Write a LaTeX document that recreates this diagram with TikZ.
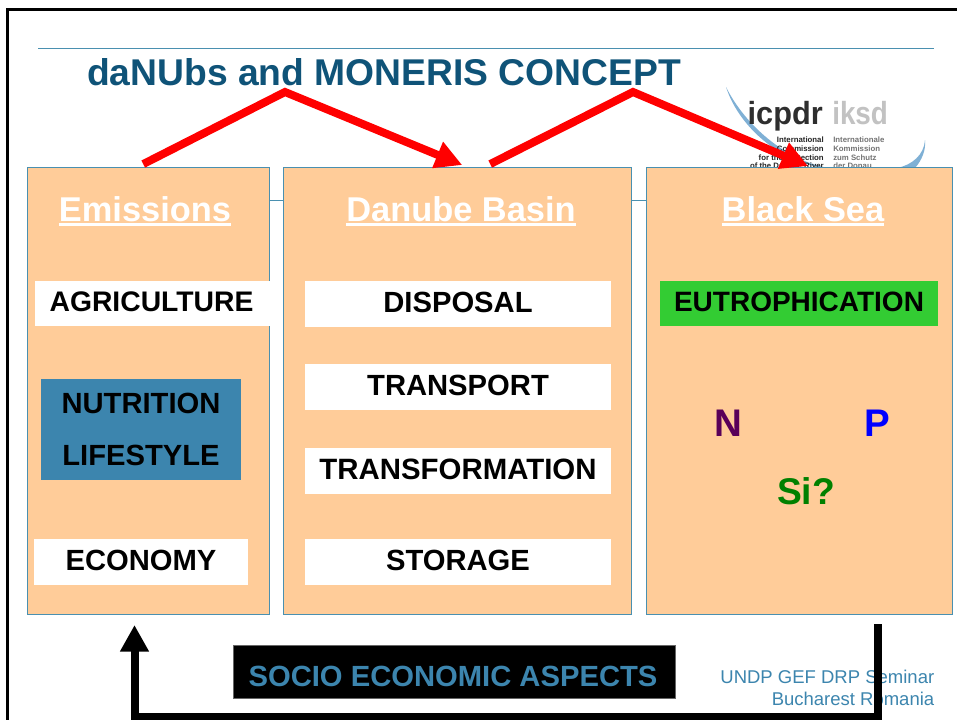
\documentclass[tikz,border=0pt]{standalone}
\usepackage{fontspec}
\setmainfont{Liberation Sans}
\usetikzlibrary{arrows.meta}
\definecolor{boxfill}{HTML}{FFCC99}
\definecolor{boxline}{HTML}{4A90B0}
\definecolor{steel}{HTML}{3C85AE}
\definecolor{titleblue}{HTML}{0F5378}
\definecolor{leaf}{HTML}{33CC33}
\definecolor{swoosh}{HTML}{7FB0D5}
\newcommand{\pxfont}[1]{\fontsize{\dimexpr #1pt*3/4\relax}{\dimexpr #1pt*9/10\relax}\selectfont}
\newcommand{\hdg}[1]{\setbox0=\hbox{#1}\rlap{\rule[-3.6pt]{\wd0}{2.1pt}}\box0}
\tikzset{
  panel/.style={draw=boxline,fill=boxfill,line width=0.7pt,inner sep=0pt},
  tag/.style={fill=white,inner sep=0pt,text=black,text depth=2.2pt,font=\pxfont{29.2}\bfseries},
  heading/.style={inner sep=0pt,text=white,font=\pxfont{34.4}\bfseries},
  redarrow/.style={draw=red,line width=6pt,-{Triangle[length=20pt,width=20pt]}},
  blackarrow/.style={draw=black,line width=6pt,-{Triangle[length=20pt,width=20.5pt]}},
  thin rule/.style={draw=boxline,line width=0.7pt},
  logosmall/.style={inner sep=0pt,font=\pxfont{7.8}\bfseries},
  element/.style={inner sep=0pt,font=\pxfont{38.5}\bfseries},
  credit/.style={inner sep=0pt,text=steel,font=\pxfont{18.5},anchor=east}
}
\begin{document}
\begin{tikzpicture}[x=0.75pt,y=-0.75pt]
\useasboundingbox (0,0) rectangle (957,719);
\clip (0,0) rectangle (957,719);
\fill[white] (0,0) rectangle (957,719);
% frame
\draw[black,line width=2.4pt] (7.5,730) -- (7.5,9.5) -- (970,9.5);
\draw[thin rule] (38,48) -- (934,48);
% title
\node[inner sep=0pt,text=titleblue,font=\pxfont{37.25}\bfseries,anchor=center] (title) at (384,72) {daNUbs and MONERIS CONCEPT};
% logo
\fill[swoosh] (726,87) .. controls (745,125) and (785,160) .. (828,168) .. controls (785,165) and (740,130) .. (726,87) -- cycle;
\fill[swoosh] (925,140) .. controls (924,155) and (912,165) .. (897,168) -- (915,168) .. controls (922,160) and (926,150) .. (925,140) -- cycle;
\node[inner sep=0pt,text=black!82,font=\pxfont{32}\bfseries,anchor=base east] (icpdr) at (823,124) {\scalebox{0.96}[1]{icpdr}};
\node[inner sep=0pt,text=black!24,font=\pxfont{32}\bfseries,anchor=base west] (iksd) at (832,124) {\scalebox{0.87}[1]{iksd}};
\node[logosmall,text=black!85,anchor=east] (en1) at (824,140) {International};
\node[logosmall,text=black!85,anchor=east] (en2) at (824,149) {Commission};
\node[logosmall,text=black!85,anchor=east] (en3) at (824,158) {for the Protection};
\node[logosmall,text=black!85,anchor=east] (en4) at (824,166) {of the Danube River};
\node[logosmall,text=black!55,anchor=west] (de1) at (833,140) {Internationale};
\node[logosmall,text=black!55,anchor=west] (de2) at (833,149) {Kommission};
\node[logosmall,text=black!55,anchor=west] (de3) at (833,158) {zum Schutz};
\node[logosmall,text=black!55,anchor=west] (de4) at (833,166) {der Donau};
% panels
\coordinate (hline) at (0,200);
\node[panel,minimum width=181.5pt,minimum height=335.25pt] (emis) at (148.75,391) {};
\node[panel,minimum width=261pt,minimum height=335.25pt] (dan) at (457.75,391) {};
\node[panel,minimum width=229.5pt,minimum height=335.25pt] (sea) at (799.5,391) {};
\draw[thin rule] (emis.east |- hline) -- (dan.west |- hline);
\draw[thin rule] (dan.east |- hline) -- (sea.west |- hline);
% headings
\node[heading] (h1) at (145,211) {\hdg{Emissions}};
\node[heading] (h2) at (461,211) {\hdg{Danube Basin}};
\node[heading] (h3) at (803,211) {\hdg{Black Sea}};
% labels
\node[tag,font=\pxfont{28.3}\bfseries,minimum width=176.25pt,minimum height=33.75pt] (agri) at (152.5,303.5) {\hspace*{-1.5pt}AGRICULTURE};
\node[tag,minimum width=160.5pt,minimum height=34.5pt] (econ) at (141,562) {ECONOMY};
\node[inner sep=0pt,fill=steel,minimum width=150pt,minimum height=75.75pt] (nutr) at (141,429.5) {};
\node[inner sep=0pt,text=black,font=\pxfont{29.2}\bfseries] (nutr1) at (141,403.5) {NUTRITION};
\node[inner sep=0pt,text=black,font=\pxfont{29.2}\bfseries] (nutr2) at (141,455) {LIFESTYLE};
\node[tag,minimum width=229.5pt,minimum height=34.5pt] (disp) at (458,304) {DISPOSAL};
\node[tag,minimum width=229.5pt,minimum height=34.5pt] (tran) at (458,387) {TRANSPORT};
\node[tag,font=\pxfont{29.4}\bfseries,minimum width=229.5pt,minimum height=34.5pt] (trfm) at (458,471) {TRANSFORMATION};
\node[tag,minimum width=229.5pt,minimum height=34.5pt] (stor) at (458,562) {STORAGE};
\node[tag,font=\pxfont{28}\bfseries,fill=leaf,minimum width=208.5pt,minimum height=33.75pt] (eutr) at (799,303.5) {EUTROPHICATION};
\node[element,text=violet!70!black] (n) at (728,423) {N};
\node[element,text=blue] (p) at (877,423) {P};
\node[element,text=green!50!black,font=\pxfont{37.2}\bfseries] (si) at (806,491) {Si?};
% red arrows
\coordinate (peakA) at (285,92);
\coordinate (peakB) at (633,92);
\draw[redarrow] ([shift={(-5.5,-3)}]emis.north) -- (peakA) -- ([shift={(4.5,-2)}]dan.north);
\draw[redarrow] ([shift={(32.5,-3)}]dan.north) -- (peakB) -- ([shift={(8.5,-1)}]sea.north);
% socio box
\node[inner sep=0pt,fill=black,draw=black!60,line width=0.5pt,minimum width=331.5pt,minimum height=39.75pt] (socio) at (454,671.5) {};
\node[inner sep=0pt,text=steel,font=\pxfont{29.2}\bfseries] (sociotext) at (453,676) {SOCIO ECONOMIC ASPECTS};
% credits
\node[credit] (c1) at (934.5,677) {UNDP GEF DRP Seminar};
\node[credit] (c2) at (934.5,699) {Bucharest Romania};
% feedback arrow
\coordinate (fbstart) at (878,624);
\coordinate (fbend) at (134.5,625);
\coordinate (fbbase) at (0,717);
\draw[blackarrow] (fbstart) -- (fbstart |- fbbase) -- (fbend |- fbbase) -- (fbend);
\end{tikzpicture}
\end{document}
